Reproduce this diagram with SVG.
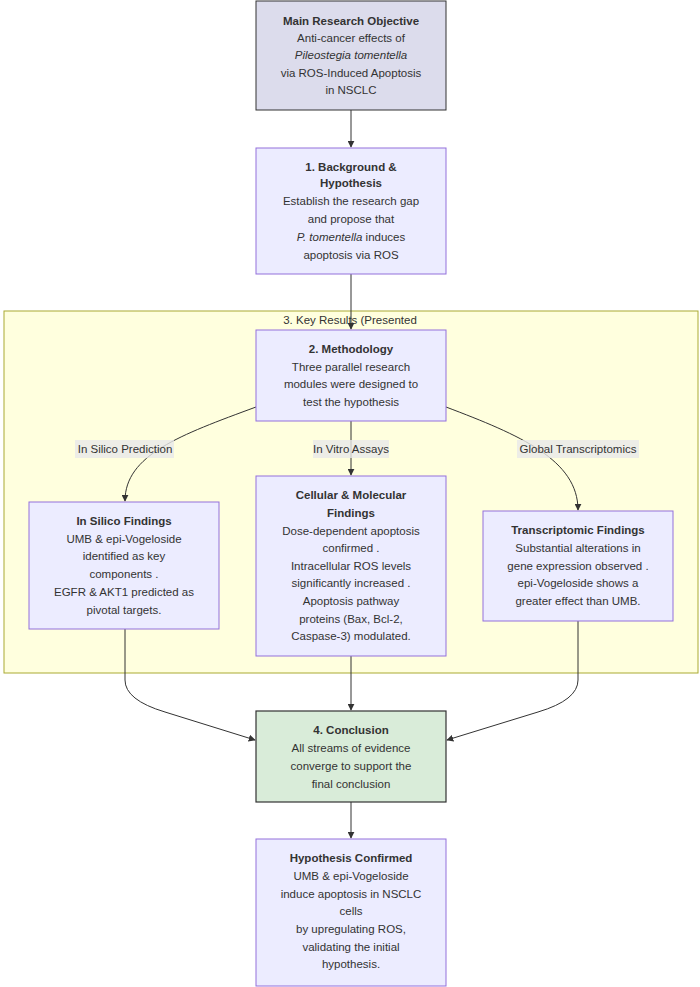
<svg xmlns="http://www.w3.org/2000/svg" width="700" height="987" viewBox="0 0 700 987">
<style>
text{font-family:"Liberation Sans",Arial,sans-serif;font-size:11.5px;fill:#333;text-anchor:middle}
.b{font-weight:bold}
.n{fill:#ececff;stroke:#9370db;stroke-width:1}
.e{fill:none;stroke:#333;stroke-width:1}
.lb{fill:#e8e8e8;opacity:0.8}
</style>
<defs><marker id="a" viewBox="0 0 10 10" refX="9" refY="5" markerWidth="7" markerHeight="7" orient="auto"><path d="M0,0L10,5L0,10z" fill="#333"/></marker></defs>
<g id="cluster"><rect x="4" y="311" width="694" height="362" fill="#ffffde" stroke="#aaaa33"/><text x="350" y="324">3. Key Results (Presented</text></g>
<g id="edges">
<path class="e" d="M351,110V147" marker-end="url(#a)"/>
<path class="e" d="M351,274V329" marker-end="url(#a)"/>
<path class="e" d="M351,421V475" marker-end="url(#a)"/>
<path class="e" d="M256,407C180,435 125,455 125,501" marker-end="url(#a)"/>
<path class="e" d="M446,407C520,435 578,460 578,510" marker-end="url(#a)"/>
<path class="e" d="M125,629V680Q125,700 165,712L255,740" marker-end="url(#a)"/>
<path class="e" d="M578,621V680Q578,700 538,712L447,740" marker-end="url(#a)"/>
<path class="e" d="M351,656V710" marker-end="url(#a)"/>
<path class="e" d="M351,802V838" marker-end="url(#a)"/>
<rect class="lb" x="75" y="440" width="99" height="18"/><text x="125" y="453">In Silico Prediction</text>
<rect class="lb" x="313" y="440" width="76" height="18"/><text x="351" y="453">In Vitro Assays</text>
<rect class="lb" x="517" y="440" width="122" height="18"/><text x="578" y="453">Global Transcriptomics</text>
</g>
<g id="main"><rect x="256" y="1" width="190" height="109" fill="#dcdcec" stroke="#333"/>
<text x="351" y="25" class="b">Main Research Objective</text><text x="351" y="42">Anti-cancer effects of</text><text x="351" y="59" font-style="italic">Pileostegia tomentella</text><text x="351" y="77">via ROS-Induced Apoptosis</text><text x="351" y="94">in NSCLC</text></g>
<g id="bg"><rect class="n" x="256" y="148" width="190" height="126"/>
<text x="351" y="171" class="b">1. Background &amp;</text><text x="351" y="187" class="b">Hypothesis</text><text x="351" y="205">Establish the research gap</text><text x="351" y="223">and propose that</text><text x="351" y="241"><tspan font-style="italic">P. tomentella</tspan> induces</text><text x="351" y="259">apoptosis via ROS</text></g>
<g id="meth"><rect class="n" x="256" y="330" width="190" height="91"/>
<text x="351" y="353" class="b">2. Methodology</text><text x="351" y="371">Three parallel research</text><text x="351" y="388">modules were designed to</text><text x="351" y="406">test the hypothesis</text></g>
<g id="silico"><rect class="n" x="29" y="502" width="190" height="127"/>
<text x="124" y="525" class="b">In Silico Findings</text><text x="124" y="543">UMB &amp; epi-Vogeloside</text><text x="124" y="560">identified as key</text><text x="124" y="578">components .</text><text x="124" y="596">EGFR &amp; AKT1 predicted as</text><text x="124" y="614">pivotal targets.</text></g>
<g id="cell"><rect class="n" x="256" y="476" width="190" height="180"/>
<text x="351" y="499" class="b">Cellular &amp; Molecular</text><text x="351" y="517" class="b">Findings</text><text x="351" y="535">Dose-dependent apoptosis</text><text x="351" y="552">confirmed .</text><text x="351" y="570">Intracellular ROS levels</text><text x="351" y="587">significantly increased .</text><text x="351" y="605">Apoptosis pathway</text><text x="351" y="623">proteins (Bax, Bcl-2,</text><text x="351" y="640">Caspase-3) modulated.</text></g>
<g id="trans"><rect class="n" x="483" y="511" width="190" height="110"/>
<text x="578" y="534" class="b">Transcriptomic Findings</text><text x="578" y="552">Substantial alterations in</text><text x="578" y="570">gene expression observed .</text><text x="578" y="587">epi-Vogeloside shows a</text><text x="578" y="605">greater effect than UMB.</text></g>
<g id="concl"><rect x="256" y="711" width="190" height="91" fill="#d9ecd9" stroke="#333" stroke-width="1.2"/>
<text x="351" y="734" class="b">4. Conclusion</text><text x="351" y="752">All streams of evidence</text><text x="351" y="770">converge to support the</text><text x="351" y="788">final conclusion</text></g>
<g id="final"><rect class="n" x="256" y="839" width="190" height="147"/>
<text x="351" y="862" class="b">Hypothesis Confirmed</text><text x="351" y="880">UMB &amp; epi-Vogeloside</text><text x="351" y="898">induce apoptosis in NSCLC</text><text x="351" y="915">cells</text><text x="351" y="933">by upregulating ROS,</text><text x="351" y="951">validating the initial</text><text x="351" y="968">hypothesis.</text></g>
</svg>
